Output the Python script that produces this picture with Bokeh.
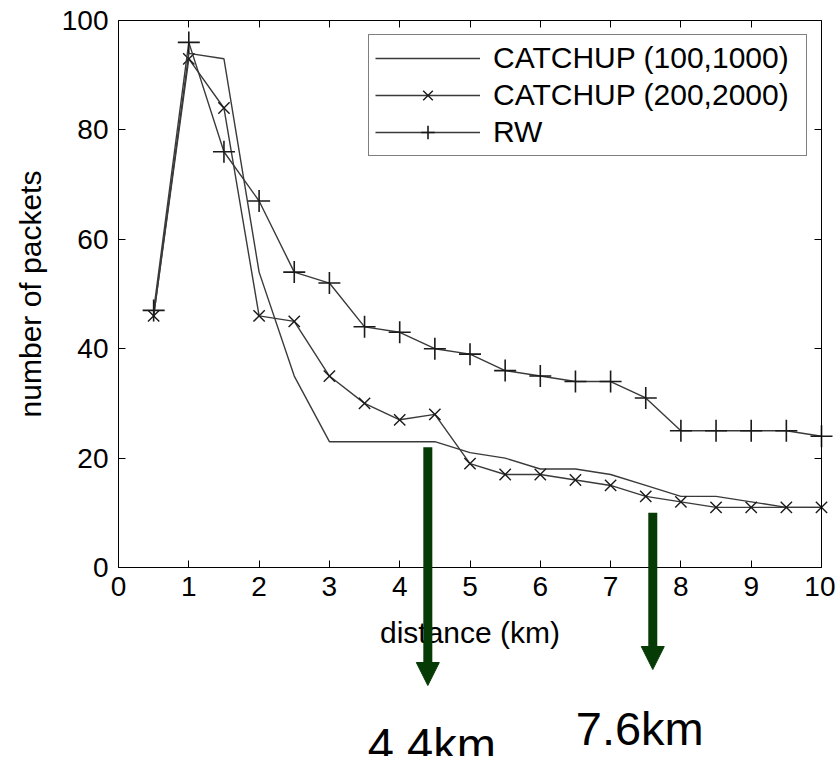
import math
from bokeh.plotting import figure
from bokeh.models import (LinearAxis, FixedTicker, Range1d, Arrow, NormalHead,
                          Legend, LegendItem)
from bokeh.core.properties import value
from bokeh.embed import file_html
from bokeh.resources import INLINE

# ---- data ----
distance = [0.5, 1, 1.5, 2, 2.5, 3, 3.5, 4, 4.5, 5,
            5.5, 6, 6.5, 7, 7.5, 8, 8.5, 9, 9.5, 10]
catchup_100_1000 = [46, 94, 93, 54, 35, 23, 23, 23, 23, 21,
                    20, 18, 18, 17, 15, 13, 13, 12, 11, 11]
catchup_200_2000 = [46, 93, 84, 46, 45, 35, 30, 27, 28, 19,
                    17, 17, 16, 15, 13, 12, 11, 11, 11, 11]
rw = [47, 96, 76, 67, 54, 52, 44, 43, 40, 39,
      36, 35, 34, 34, 31, 25, 25, 25, 25, 24]
series_names = ["CATCHUP (100,1000)", "CATCHUP (200,2000)", "RW"]
x_ticks = [0, 1, 2, 3, 4, 5, 6, 7, 8, 9, 10]
y_ticks = [0, 20, 40, 60, 80, 100]
x_title = "distance (km)"
y_title = "number of packets"
marked_km = [4.4, 7.6]
marked_level = [22, 10]
marked_text = ["4.4km", "7.6km"]

# ---- layout (pixels) / styles ----
W, H = 835, 756
BOX_LEFT, BOX_RIGHT, BOX_TOP, BOX_BOTTOM = 118, 821, 20, 567   # axes box
X0, X1, Y0, Y1 = x_ticks[0], x_ticks[-1], y_ticks[0], y_ticks[-1]
PX_X = (BOX_RIGHT - BOX_LEFT) / (X1 - X0)
PX_Y = (BOX_BOTTOM - BOX_TOP) / (Y1 - Y0)


def px_to_x(px):
    return X0 + (px - BOX_LEFT) / PX_X


def py_to_y(py):
    return Y0 + (BOX_BOTTOM - py) / PX_Y


FONT = "Liberation Sans"
LINE = "#3a3a3a"
MARK = "#1a1a1a"
GREEN = "#063b06"

# the plotting frame covers the whole canvas; the axes box is drawn by fixed axes
p = figure(width=W, height=H,
           x_range=Range1d(px_to_x(0), px_to_x(W)),
           y_range=Range1d(py_to_y(H), py_to_y(0)),
           output_backend="svg", toolbar_location=None,
           min_border_left=0, min_border_right=0,
           min_border_top=0, min_border_bottom=0)
p.xgrid.visible = False
p.ygrid.visible = False
p.outline_line_color = None
p.background_fill_color = "white"
p.border_fill_color = "white"


def style_axis(ax, ticks, loc, bounds, labels=True):
    ax.ticker = FixedTicker(ticks=ticks)
    ax.fixed_location = loc
    ax.bounds = bounds
    ax.major_tick_in = 7
    ax.major_tick_out = 0
    ax.minor_tick_line_color = None
    ax.axis_line_color = "black"
    ax.axis_line_width = 1
    ax.major_tick_line_color = "black"
    ax.major_label_text_font = FONT
    ax.major_label_text_color = "black"
    if labels:
        ax.major_label_text_font_size = "28px"
    else:
        ax.major_label_text_font_size = "0px"
        ax.major_label_overrides = {t: "" for t in ticks}


xa = p.xaxis[0]
style_axis(xa, x_ticks, Y0, (X0, X1))
xa.major_label_standoff = 9

ya = p.yaxis[0]
style_axis(ya, y_ticks, X0, (Y0, Y1))
ya.major_label_standoff = 10

top_axis = LinearAxis()
style_axis(top_axis, x_ticks, Y1, (X0, X1), labels=False)
p.add_layout(top_axis, "above")
right_axis = LinearAxis()
style_axis(right_axis, y_ticks, X1, (Y0, Y1), labels=False)
p.add_layout(right_axis, "right")

# axis titles
p.text(x=[(X0 + X1) / 2], y=[py_to_y(615)], text=[x_title], text_align="center",
       text_baseline="top", text_font=value(FONT), text_font_size="30px",
       text_color="black")
p.text(x=[px_to_x(30)], y=[(Y0 + Y1) / 2], text=[y_title], angle=math.pi / 2,
       text_align="center", text_baseline="middle", text_font=value(FONT),
       text_font_size="30px", text_color="black")

l1 = p.line(distance, catchup_100_1000, line_color=LINE, line_width=1.4)
l2 = p.line(distance, catchup_200_2000, line_color=LINE, line_width=1.4)
s2 = p.scatter(distance, catchup_200_2000, marker="x", size=16,
               line_color=MARK, line_width=1.4)
l3 = p.line(distance, rw, line_color=LINE, line_width=1.4)
s3 = p.scatter(distance, rw, marker="cross", size=22,
               line_color=MARK, line_width=1.6)

LEG_W, LEG_H, LEG_M = 437, 120, 16
legend = Legend(items=[LegendItem(label=series_names[0], renderers=[l1]),
                       LegendItem(label=series_names[1], renderers=[l2, s2]),
                       LegendItem(label=series_names[2], renderers=[l3, s3])],
                location=(BOX_RIGHT - LEG_M - LEG_W, H - (BOX_TOP + LEG_M + LEG_H)),
                margin=0, padding=6, spacing=3,
                glyph_width=105, glyph_height=34, label_height=34,
                label_width=307, label_standoff=13,
                label_text_font=FONT, label_text_font_size="30px",
                label_text_color="black",
                border_line_color="black", border_line_width=1,
                background_fill_color="white", background_fill_alpha=1)
p.add_layout(legend)

# annotation arrows with their distance labels
arrow_tip_px = [685, 669]
label_top_px = [717, 701]
label_dx = [4, -13]
for km, lvl, tip in zip(marked_km, marked_level, arrow_tip_px):
    p.add_layout(Arrow(end=NormalHead(size=23, fill_color=GREEN, line_color=GREEN,
                                      line_width=1),
                       x_start=km, y_start=lvl, x_end=km, y_end=py_to_y(tip),
                       line_color=GREEN, line_width=9))
p.text(x=marked_km, y=[py_to_y(t) for t in label_top_px], text=marked_text,
       x_offset=label_dx, text_align="center", text_baseline="top",
       text_font=value(FONT), text_font_size="47px", text_color="black")

open("out.html", "w").write(file_html(p, INLINE))
